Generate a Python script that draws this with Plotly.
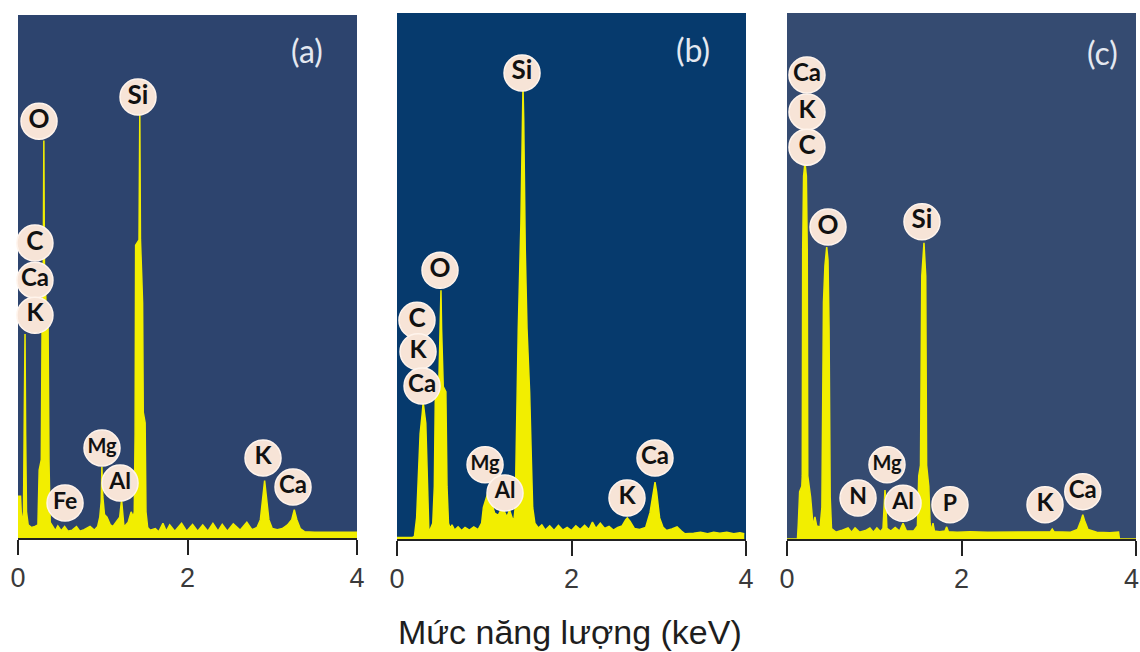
import plotly.graph_objects as go

# ---------------- data ----------------
# EDS spectra: (energy keV, relative counts 0..100)
spectrum_a = [
    (0.00, 8), (0.03, 8), (0.045, 2.5), (0.065, 5), (0.075, 25), (0.083, 39), (0.09, 20),
    (0.10, 5), (0.12, 2.5), (0.16, 2), (0.20, 2.2), (0.235, 2.5), (0.25, 13), (0.262, 14),
    (0.275, 15), (0.285, 42), (0.298, 52), (0.305, 76), (0.312, 52), (0.33, 45), (0.355, 40),
    (0.365, 15), (0.38, 3), (0.41, 2.2), (0.44, 1.4), (0.47, 2.3), (0.51, 1.4), (0.55, 2.2),
    (0.59, 1.3), (0.64, 1.5), (0.69, 2.2), (0.73, 1.3), (0.78, 1.6), (0.85, 2.2), (0.90, 1.5),
    (0.94, 2.2), (0.965, 4), (0.982, 7), (0.99, 13.6), (1.00, 8), (1.02, 4.5), (1.05, 4),
    (1.09, 2.5), (1.12, 2.2), (1.16, 3), (1.20, 4), (1.222, 7.3), (1.235, 4), (1.25, 2.2),
    (1.27, 2.5), (1.30, 3), (1.335, 5), (1.36, 4), (1.372, 5), (1.382, 20), (1.388, 56),
    (1.428, 57), (1.437, 81), (1.445, 57), (1.46, 50), (1.47, 45), (1.478, 24), (1.50, 22),
    (1.51, 5), (1.53, 2), (1.56, 1.5), (1.62, 1.8), (1.66, 1.2), (1.71, 2.8), (1.75, 1.3),
    (1.79, 2.5), (1.85, 1.3), (1.93, 2.8), (1.99, 1.3), (2.06, 2.6), (2.12, 1.3), (2.18, 2.5),
    (2.24, 1.3), (2.30, 2.8), (2.36, 1.3), (2.41, 2.6), (2.47, 1.3), (2.54, 2.7), (2.62, 1.5),
    (2.70, 3.0), (2.76, 1.6), (2.82, 2.0), (2.86, 3.5), (2.89, 8), (2.91, 11), (2.93, 8),
    (2.96, 3.5), (3.00, 1.8), (3.06, 1.6), (3.12, 1.8), (3.18, 2.5), (3.23, 3.5), (3.26, 5.4),
    (3.29, 3.5), (3.33, 1.8), (3.38, 1.2), (3.50, 1.1), (3.70, 1.1), (4.00, 1.1),
]

spectrum_b = [
    (0.00, 0.3), (0.18, 0.3), (0.20, 0.5), (0.225, 4), (0.24, 10), (0.265, 20), (0.29, 24),
    (0.30, 26), (0.33, 22), (0.345, 12), (0.355, 4), (0.365, 1.5), (0.38, 1.8), (0.395, 2.5),
    (0.41, 3), (0.428, 10), (0.44, 28), (0.48, 30), (0.497, 40), (0.504, 47.3), (0.511, 40),
    (0.53, 29), (0.56, 28), (0.573, 10), (0.59, 3), (0.61, 2), (0.63, 2.7), (0.66, 1.7),
    (0.70, 2.3), (0.74, 1.6), (0.78, 2.2), (0.83, 1.7), (0.88, 2.3), (0.93, 1.8), (0.97, 3),
    (0.99, 6), (1.04, 8.7), (1.08, 7), (1.12, 4.9), (1.16, 4.5), (1.19, 5.5), (1.23, 5.2),
    (1.26, 4.2), (1.29, 5.5), (1.32, 4), (1.34, 3.6), (1.355, 6), (1.37, 25), (1.39, 40),
    (1.42, 60), (1.436, 80), (1.444, 86), (1.452, 80), (1.47, 55), (1.49, 40), (1.52, 28),
    (1.54, 15), (1.555, 6), (1.58, 3), (1.62, 2.1), (1.66, 2.7), (1.70, 1.7), (1.75, 2.5),
    (1.80, 1.6), (1.85, 2.6), (1.90, 1.7), (1.95, 2.2), (2.00, 1.6), (2.05, 2.5), (2.10, 1.8),
    (2.15, 2.6), (2.20, 1.8), (2.24, 3.2), (2.28, 2.0), (2.33, 3.0), (2.38, 2.0), (2.43, 2.4),
    (2.48, 1.7), (2.53, 2.2), (2.58, 2.5), (2.62, 3.6), (2.64, 4.0), (2.67, 3.4), (2.72, 2.0),
    (2.78, 1.8), (2.85, 2.2), (2.90, 5), (2.94, 9), (2.957, 10.8), (2.975, 9), (3.01, 4),
    (3.05, 2.2), (3.09, 1.6), (3.15, 1.9), (3.21, 2.3), (3.26, 1.5), (3.30, 1.0), (3.40, 1.1),
    (3.48, 1.3), (3.56, 1.0), (3.63, 1.3), (3.70, 1.1), (3.78, 1.3), (3.86, 1.0), (3.93, 1.2),
    (3.98, 1.0),
]

spectrum_c = [
    (0.00, 0), (0.12, 0), (0.13, 3), (0.145, 9), (0.17, 10), (0.175, 12), (0.18, 55),
    (0.19, 69), (0.206, 71.5), (0.222, 69), (0.232, 55), (0.238, 12), (0.27, 8), (0.285, 4),
    (0.30, 2.3), (0.32, 4.2), (0.34, 2.5), (0.38, 2.3), (0.40, 6), (0.418, 45), (0.435, 52),
    (0.455, 55.5), (0.47, 53), (0.482, 40), (0.495, 8), (0.51, 2), (0.56, 1.3), (0.62, 1.6),
    (0.70, 2.1), (0.74, 1.3), (0.78, 2.1), (0.83, 1.3), (0.90, 1.6), (0.95, 2.1), (0.99, 1.3),
    (1.03, 2.1), (1.07, 1.4), (1.10, 2), (1.115, 8), (1.123, 9.3), (1.13, 8), (1.145, 2),
    (1.19, 1.5), (1.24, 2.2), (1.29, 1.5), (1.33, 3.0), (1.37, 1.5), (1.45, 1.5), (1.495, 2.5),
    (1.51, 12), (1.53, 14), (1.545, 50), (1.57, 56.3), (1.59, 50), (1.60, 14), (1.625, 10),
    (1.64, 3), (1.655, 1.5), (1.673, 3), (1.69, 1.5), (1.75, 1.4), (1.81, 1.5), (1.83, 2.3),
    (1.85, 1.4), (1.95, 1.3), (2.10, 1.4), (2.30, 1.3), (2.50, 1.3), (2.70, 1.3), (2.90, 1.3),
    (3.02, 1.4), (3.04, 1.9), (3.06, 1.4), (3.25, 1.3), (3.33, 1.8), (3.37, 3.5), (3.39, 4.6),
    (3.41, 3.5), (3.45, 1.8), (3.55, 1.3), (3.70, 1.2), (3.80, 1.3), (3.81, 0), (4.00, 0),
]

# element labels: (text, energy, height, font size)
labels_a = [
    ("Si", 1.416, 84.3, 26), ("O", 0.248, 79.7, 26), ("C", 0.20, 56.4, 26),
    ("Ca", 0.20, 49.3, 24), ("K", 0.20, 42.6, 25), ("Mg", 0.991, 17.2, 20),
    ("Al", 1.204, 10.5, 23), ("Fe", 0.555, 6.7, 23), ("K", 2.891, 15.3, 25),
    ("Ca", 3.245, 9.75, 24),
]
labels_b = [
    ("Si", 1.433, 88.6, 26), ("O", 0.493, 51.1, 26), ("C", 0.229, 41.6, 26),
    ("K", 0.241, 35.6, 25), ("Ca", 0.287, 29.1, 24), ("Mg", 1.009, 14.1, 20),
    ("Al", 1.238, 8.75, 22), ("K", 2.636, 7.8, 25), ("Ca", 2.957, 15.4, 24),
]
labels_c = [
    ("Ca", 0.229, 88.2, 24), ("K", 0.229, 81.2, 25), ("C", 0.229, 74.5, 26),
    ("O", 0.47, 59.3, 26), ("Si", 1.547, 60.3, 26), ("Mg", 1.146, 14.1, 20),
    ("N", 0.814, 7.8, 23), ("Al", 1.33, 6.8, 23), ("P", 1.868, 6.5, 23),
    ("K", 2.957, 6.5, 25), ("Ca", 3.39, 9.0, 24),
]

panel_tags = ["(a)", "(b)", "(c)"]
tag_pos = [(3.41, 93.3), (3.39, 93.0), (3.62, 92.4)]
tick_values = [0, 2, 4]
tick_text = ["0", "2", "4"]
# the last panel's "4" sits at the page edge; it is drawn as a right-aligned note
tick_text_last = ["0", "2", ""]
edge_tick_label = "4"
x_title = "Mức năng lượng (keV)"

# ---------------- layout / styling ----------------
W, H = 1140, 652
panel_px = [  # (x0, x1, y_top, y_bottom) in pixels
    (18, 357, 15, 538),
    (397, 746, 13, 539),
    (787, 1136, 13, 539),
]
panel_bg = ["#2d446e", "#063a6d", "#354b71"]
yellow = "#f2ee00"
circle_fill = "#f7e4d7"
tick_font = dict(family="Liberation Sans", size=27, color="#3a3a3a")

spectra = [spectrum_a, spectrum_b, spectrum_c]
labels = [labels_a, labels_b, labels_c]

fig = go.Figure()
layout = dict(
    width=W, height=H, autosize=False,
    margin=dict(l=0, r=0, t=0, b=0, pad=0),
    paper_bgcolor="white", plot_bgcolor="rgba(0,0,0,0)",
    showlegend=False, shapes=[], annotations=[],
)

for i in range(3):
    sfx = "" if i == 0 else str(i + 1)
    xref, yref = "x" + sfx, "y" + sfx
    x0, x1, yt, yb = panel_px[i]
    layout["xaxis" + sfx] = dict(
        domain=[x0 / W, x1 / W], range=[0, 4], anchor=yref, automargin=False,
        showline=True, linecolor="#222222", linewidth=2,
        ticks="outside", ticklen=15, tickwidth=2, tickcolor="#222222",
        tickvals=tick_values, ticktext=(tick_text if i < 2 else tick_text_last),
        ticklabelstandoff=0, ticklabeloverflow="allow",
        tickfont=tick_font,
        showgrid=False, zeroline=False, fixedrange=True,
    )
    layout["yaxis" + sfx] = dict(
        domain=[(H - yb) / H, (H - yt) / H], range=[0, 100], anchor=xref,
        automargin=False, visible=False, showgrid=False, zeroline=False,
        fixedrange=True,
    )
    layout["shapes"].append(dict(
        type="rect", xref=xref + " domain", yref=yref + " domain",
        x0=0, x1=1, y0=0, y1=1, fillcolor=panel_bg[i], line=dict(width=0),
        layer="below",
    ))

    ex = [p[0] for p in spectra[i]]
    cy = [p[1] for p in spectra[i]]
    fig.add_trace(go.Scatter(
        x=ex, y=cy, xaxis=xref, yaxis=yref, mode="lines",
        line=dict(color=yellow, width=1.5), fill="tozeroy", fillcolor=yellow,
        hoverinfo="skip",
    ))

    lt = [l[0] for l in labels[i]]
    lx = [l[1] for l in labels[i]]
    ly = [l[2] for l in labels[i]]
    ls = [l[3] for l in labels[i]]
    fig.add_trace(go.Scatter(
        x=lx, y=ly, xaxis=xref, yaxis=yref, mode="markers+text",
        text=lt, textposition="middle center",
        textfont=dict(family="Lato", size=ls, color="#111111", weight="bold"),
        marker=dict(size=36, color=circle_fill, line=dict(color="#fff4ec", width=1.5)),
        cliponaxis=False, hoverinfo="skip",
    ))

    layout["annotations"].append(dict(
        x=tag_pos[i][0], y=tag_pos[i][1], xref=xref, yref=yref,
        text=panel_tags[i], showarrow=False, xanchor="center", yanchor="middle",
        font=dict(family="Lato", size=32, color="#e4e8f0"),
    ))

# "4" of the last panel, kept inside the page
layout["annotations"].append(dict(
    x=1.0, y=(H - 579) / H, xref="paper", yref="paper", text=edge_tick_label,
    showarrow=False, xanchor="right", yanchor="middle", borderpad=0,
    font=tick_font,
))

layout["annotations"].append(dict(
    x=0.5, y=(H - 632) / H, xref="paper", yref="paper", text=x_title,
    showarrow=False, xanchor="center", yanchor="middle",
    font=dict(family="Liberation Sans", size=34, color="#1e1e1e"),
))

fig.update_layout(**layout)
fig.write_html(
    "out.html",
    config={"displayModeBar": False},
    post_script="document.body.style.margin='0';document.body.style.overflow='hidden';",
)
